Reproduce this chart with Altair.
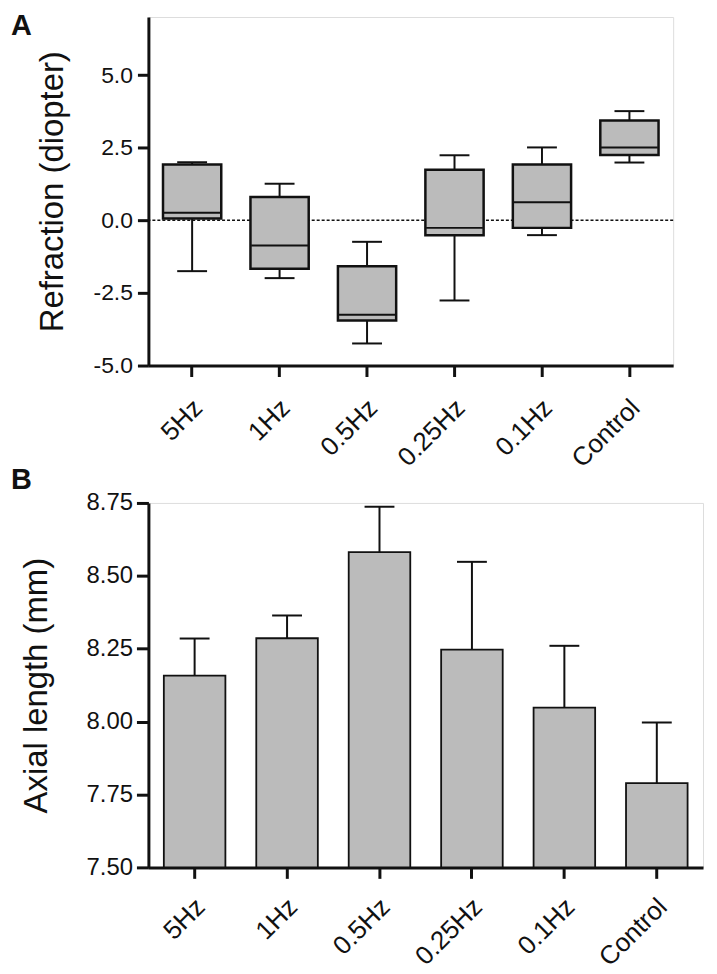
import altair as alt
import pandas as pd

groups = ["5Hz", "1Hz", "0.5Hz", "0.25Hz", "0.1Hz", "Control"]

# Panel A: refraction (diopter) box plots
ref_min = [-1.75, -1.99, -4.24, -2.76, -0.51, 1.99]
ref_q1 = [0.06, -1.67, -3.45, -0.51, -0.26, 2.25]
ref_median = [0.26, -0.87, -3.25, -0.26, 0.62, 2.51]
ref_q3 = [1.92, 0.80, -1.58, 1.74, 1.92, 3.44]
ref_max = [2.00, 1.26, -0.74, 2.24, 2.51, 3.76]
ref_ticks = [-5.0, -2.5, 0.0, 2.5, 5.0]

# Panel B: axial length (mm), mean with upper error bar
axial_mean = [8.158, 8.286, 8.581, 8.247, 8.048, 7.789]
axial_upper = [8.285, 8.364, 8.737, 8.548, 8.260, 7.997]
axial_ticks = [7.50, 7.75, 8.00, 8.25, 8.50, 8.75]

FONT = "Liberation Sans"
GRAY = "#bbbbbb"
INK = "#111111"

dfA = pd.DataFrame({"group": groups, "lo": ref_min, "q1": ref_q1, "med": ref_median,
                    "q3": ref_q3, "hi": ref_max})
dfB = pd.DataFrame({"group": groups, "mean": axial_mean, "upper": axial_upper})
dfZero = pd.DataFrame({"y": [0.0]})


def x_enc(tick, pad):
    return alt.X("group:N", sort=groups,
                 scale=alt.Scale(paddingInner=0.334, paddingOuter=0.167),
                 axis=alt.Axis(title=None, labelAngle=-45, labelFont=FONT, labelFontSize=26,
                               labelColor=INK, labelPadding=pad, labelOffset=-3,
                               tickSize=tick, tickWidth=3,
                               tickColor=INK, domainColor=INK, domainWidth=3, grid=False))


yA_scale = alt.Scale(domain=[-5, 7], nice=False, zero=False)
yA_axis = alt.Axis(values=ref_ticks, title="Refraction (diopter)", titleFont=FONT,
                   titleFontSize=33, titleFontWeight="normal", titleColor=INK,
                   titlePadding=23, minExtent=56, maxExtent=56,
                   labelExpr="datum.value < 0 ? '-' + format(-datum.value, '.1f') : format(datum.value, '.1f')",
                   labelFont=FONT, labelFontSize=23, labelColor=INK, labelPadding=5,
                   tickSize=11, tickWidth=3, tickColor=INK, domainColor=INK, domainWidth=3,
                   grid=False)


def yA(field):
    return alt.Y(field, scale=yA_scale, axis=yA_axis)


xA = x_enc(11, 18)

zeroA = alt.Chart(dfZero).mark_rule(strokeDash=[3, 2], strokeWidth=1.5, color=INK).encode(
    y=yA("y:Q"))
whiskA = alt.Chart(dfA).mark_rule(strokeWidth=2, color=INK).encode(
    x=xA, y=yA("lo:Q"), y2="hi:Q")
capLoA = alt.Chart(dfA).mark_tick(size=30, thickness=2, color=INK, opacity=1).encode(
    x=xA, y=yA("lo:Q"))
capHiA = alt.Chart(dfA).mark_tick(size=30, thickness=2, color=INK, opacity=1).encode(
    x=xA, y=yA("hi:Q"))
boxA = alt.Chart(dfA).mark_bar(fill=GRAY, stroke=INK, strokeWidth=2.5, opacity=1).encode(
    x=xA, y=yA("q1:Q"), y2="q3:Q")
medA = alt.Chart(dfA).mark_tick(size=57, thickness=2, color=INK, opacity=1).encode(
    x=xA, y=yA("med:Q"))
letterA = alt.Chart(pd.DataFrame({"t": ["A"]})).mark_text(
    font=FONT, fontSize=29, fontWeight="bold", align="left", baseline="top",
    color=INK).encode(text="t:N", x=alt.value(-138), y=alt.value(-5))

chartA = alt.layer(zeroA, whiskA, capLoA, capHiA, boxA, medA, letterA).properties(
    width=527, height=350)

yB_scale = alt.Scale(domain=[7.5, 8.75], nice=False, zero=False)
yB_axis = alt.Axis(values=axial_ticks, format=".2f", title="Axial length (mm)", titleFont=FONT,
                   titleFontSize=33, titleFontWeight="normal", titleColor=INK,
                   titlePadding=30, minExtent=65, maxExtent=65,
                   labelFont=FONT, labelFontSize=24, labelColor=INK, labelPadding=4,
                   tickSize=12, tickWidth=3, tickColor=INK, domainColor=INK, domainWidth=3,
                   grid=False)


def yB(field):
    return alt.Y(field, scale=yB_scale, axis=yB_axis)


xB = x_enc(11, 15)

barB = alt.Chart(dfB).mark_bar(fill=GRAY, stroke=INK, strokeWidth=1.8, opacity=1).encode(
    x=xB, y=yB("mean:Q"), y2=alt.datum(7.5))
errB = alt.Chart(dfB).mark_rule(strokeWidth=2, color=INK).encode(
    x=xB, y=yB("mean:Q"), y2="upper:Q")
capB = alt.Chart(dfB).mark_tick(size=30, thickness=2, color=INK, opacity=1).encode(
    x=xB, y=yB("upper:Q"))
letterB = alt.Chart(pd.DataFrame({"t": ["B"]})).mark_text(
    font=FONT, fontSize=29, fontWeight="bold", align="left", baseline="top",
    color=INK).encode(text="t:N", x=alt.value(-138), y=alt.value(-37))

chartB = alt.layer(barB, errB, capB, letterB).properties(width=557, height=366)

chart = alt.concat(chartA, chartB, columns=1, spacing=138, bounds="flush").properties(
    padding={"left": 2, "top": 1, "right": 5, "bottom": 0}
).configure_view(stroke=None).configure(background="white")

chart.save("out.html", embed_options={"renderer": "svg", "actions": False})
